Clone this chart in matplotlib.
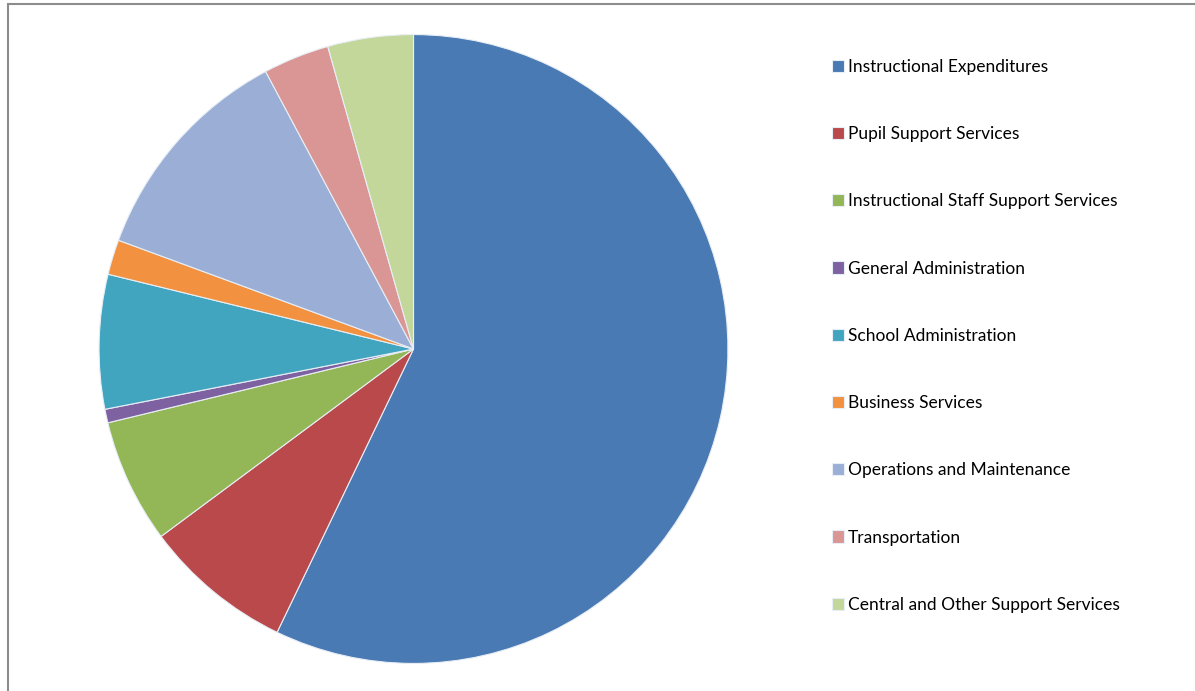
import matplotlib
matplotlib.use("Agg")
from matplotlib import pyplot as plt
from matplotlib.patches import Rectangle

categories = [
    "Instructional Expenditures",
    "Pupil Support Services",
    "Instructional Staff Support Services",
    "General Administration",
    "School Administration",
    "Business Services",
    "Operations and Maintenance",
    "Transportation",
    "Central and Other Support Services",
]
shares = [57.2, 7.7, 6.4, 0.7, 6.9, 1.8, 11.6, 3.4, 4.4]
colors = ["#4a7ab3", "#b9494a", "#93b656", "#7d61a0", "#42a5c0",
          "#f2913f", "#9aaed6", "#d99694", "#c4d79b"]

W, H = 1195, 691
fig = plt.figure(figsize=(W / 100, H / 100), dpi=100)

# outer chart frame (only top and left edges visible)
fig.patches.append(Rectangle((8 / W, -0.1), 1.2, 1.1 - 4 / H, transform=fig.transFigure,
                             fill=False, edgecolor="#8c8c8c", linewidth=1.5))

cx, cy, r = 413.5, 349, 316
ax = fig.add_axes([(cx - r) / W, (H - cy - r) / H, 2 * r / W, 2 * r / H])
wedges, _ = ax.pie(shares, colors=colors, startangle=90, counterclock=False,
                   radius=1.0,
                   wedgeprops=dict(edgecolor="#e8eef5", linewidth=0.8))
ax.set_xlim(-1.005, 1.005)
ax.set_ylim(-1.005, 1.005)
ax.set_aspect("equal")
ax.axis("off")

fig.legend(wedges, categories, loc="upper left",
           bbox_to_anchor=(832 / W, 1 - 59 / H),
           frameon=False, prop={"family": "Lato", "size": 12.5},
           labelspacing=2.95, handlelength=0.7, handleheight=0.7,
           handletextpad=0.2, borderpad=0, borderaxespad=0)

fig.savefig("out.png", dpi=100)
